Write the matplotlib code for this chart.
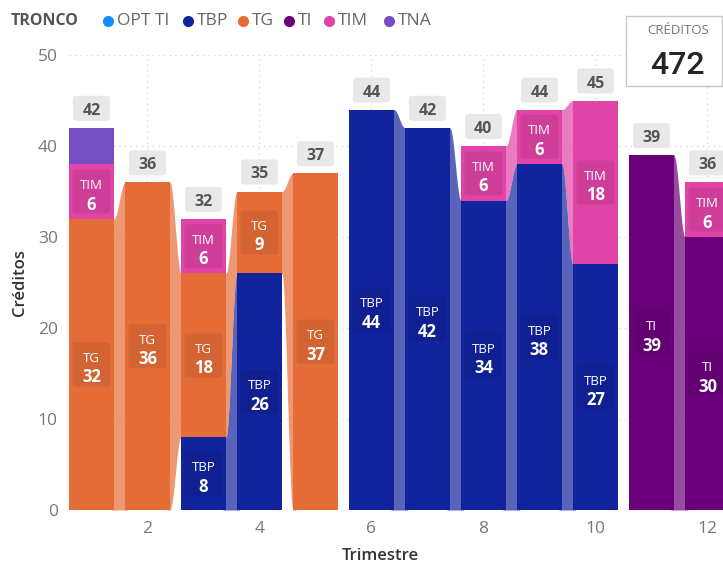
import numpy as np
import matplotlib
matplotlib.use("Agg")
import matplotlib.pyplot as plt
from matplotlib.patches import FancyBboxPatch, Rectangle

plt.rcParams['font.family'] = ['Open Sans', 'DejaVu Sans']

# créditos por trimestre y tronco
trimestre = [1, 2, 3, 4, 5, 6, 7, 8, 9, 10, 11, 12]
opt_ti = [0, 0, 0, 0, 0, 0, 0, 0, 0, 0, 0, 0]
tbp = [0, 0, 8, 26, 0, 44, 42, 34, 38, 27, 0, 0]
tg = [32, 36, 18, 9, 37, 0, 0, 0, 0, 0, 0, 0]
ti = [0, 0, 0, 0, 0, 0, 0, 0, 0, 0, 39, 30]
tim = [6, 0, 6, 0, 0, 0, 0, 6, 6, 18, 0, 6]
tna = [4, 0, 0, 0, 0, 0, 0, 0, 0, 0, 0, 0]

troncos = ['OPT TI', 'TBP', 'TG', 'TI', 'TIM', 'TNA']
colores = ['#118DFF', '#12239E', '#E66C37', '#6B007B', '#E044A7', '#744EC2']
valores = [opt_ti, tbp, tg, ti, tim, tna]

W, H = 723, 564
fig = plt.figure(figsize=(W / 100, H / 100), dpi=100)
ax = fig.add_axes([69 / W, (H - 510) / H, (W - 69) / W, 455 / H])
ax.set_xlim(0.6, 0.6 + (W - 69) / 56)
ax.set_ylim(0, 50)

# size of one pixel in data units
PX = 1 / 56
PY = 50 / 455

x = np.array(trimestre, dtype=float)
vals = np.array(valores, dtype=float)
bottoms = np.vstack([np.zeros(len(x)), np.cumsum(vals, axis=0)[:-1]])
totales = vals.sum(axis=0)
ancho = 0.8


def ribbon(x0, x1, b0, t0, b1, t1, color):
    xa = x0 + ancho / 2
    xb = x1 - ancho / 2
    xs = np.linspace(xa, xb, 80)
    s = (xs - xa) / (xb - xa)
    s = 0.5 - 0.5 * np.cos(np.pi * s)
    xs = np.concatenate([[xa - 0.05], xs, [xb + 0.05]])
    s = np.concatenate([[0], s, [1]])
    ax.fill_between(xs, b0 + (b1 - b0) * s, t0 + (t1 - t0) * s,
                    color=color, alpha=0.7, lw=0, zorder=2)


for k, nombre in enumerate(troncos):
    v = vals[k]
    b = bottoms[k]
    c = colores[k]
    for i in range(len(x)):
        if v[i] > 0:
            ax.bar(x[i], v[i], bottom=b[i], width=ancho, color=c, lw=0, zorder=3)
        if i + 1 < len(x) and v[i] > 0 and v[i + 1] > 0:
            ribbon(x[i], x[i + 1], b[i], b[i] + v[i], b[i + 1], b[i + 1] + v[i + 1], c)

# segment labels
for k, nombre in enumerate(troncos):
    for i in range(len(x)):
        v = vals[k][i]
        if v < 5:
            continue
        mid = bottoms[k][i] + v / 2
        bw, bh = 38 * PX, 44 * PY
        ax.add_patch(FancyBboxPatch((x[i] - bw / 2, mid - bh / 2), bw, bh,
                                    boxstyle='round,pad=0,rounding_size=0.05',
                                    mutation_aspect=PY / PX, fc='black', alpha=0.08,
                                    lw=0, zorder=4))
        ax.text(x[i], mid + 2.5 * PY, nombre, ha='center', va='baseline',
                fontsize=9.5, color='white', zorder=5)
        ax.text(x[i], mid - 18 * PY, f'{int(v)}', ha='center', va='baseline',
                fontsize=12, fontweight='bold', color='white', zorder=5)

# totals above each column
for i in range(len(x)):
    yc = totales[i] + 19.5 * PY
    bw, bh = 37 * PX, 25 * PY
    ax.add_patch(FancyBboxPatch((x[i] - bw / 2, yc - bh / 2), bw, bh,
                                boxstyle='round,pad=0,rounding_size=0.06',
                                mutation_aspect=PY / PX, fc='#E8E8E8', lw=0,
                                zorder=4, clip_on=False))
    ax.text(x[i], yc - 6.5 * PY, f'{int(totales[i])}', ha='center', va='baseline',
            fontsize=11.5, fontweight='bold', color='#555555', zorder=5, clip_on=False)

ax.set_yticks([0, 10, 20, 30, 40, 50])
ax.set_xticks([2, 4, 6, 8, 10, 12])
ax.tick_params(length=0, labelsize=12.5, labelcolor='#777777')
ax.tick_params(axis='y', pad=8)
ax.tick_params(axis='x', pad=8)
ax.grid(True, color='#D8D8D8', linestyle=(0, (1, 3)), lw=1)
ax.set_axisbelow(True)
for sp in ax.spines.values():
    sp.set_visible(False)

# overlay in pixel coords for legend, titles and the card
ov = fig.add_axes([0, 0, 1, 1], zorder=10)
ov.set_xlim(0, W)
ov.set_ylim(H, 0)
ov.axis('off')
ov.patch.set_alpha(0)

ov.text(11, 21, 'TRONCO', ha='left', va='center', fontsize=11.5, fontweight='bold',
        color='#555555')
dot_x = [108, 188, 243, 289, 329, 389]
for k, nombre in enumerate(troncos):
    ov.plot(dot_x[k], 21, 'o', ms=8, color=colores[k], mec='none')
    ov.text(dot_x[k] + 9, 21, nombre, ha='left', va='center', fontsize=12.5,
            color='#666666')

ov.text(20, 282, 'Créditos', rotation=90, ha='center', va='center', fontsize=12,
        fontweight='semibold', color='#333333')
ov.text(380, 556, 'Trimestre', ha='center', va='center', fontsize=12,
        fontweight='semibold', color='#333333')

ov.add_patch(Rectangle((626, 16), 96, 70, fc='white', ec='#C8C8C8', lw=1))
ov.text(678, 31, 'CRÉDITOS', ha='center', va='center', fontsize=9.5, color='#777777')
ov.text(677, 66, f'{int(totales.sum())}', ha='center', va='center', fontsize=23,
        fontweight='medium', color='#252423', family=['Roboto', 'DejaVu Sans'])

fig.savefig('out.png', dpi=100)
